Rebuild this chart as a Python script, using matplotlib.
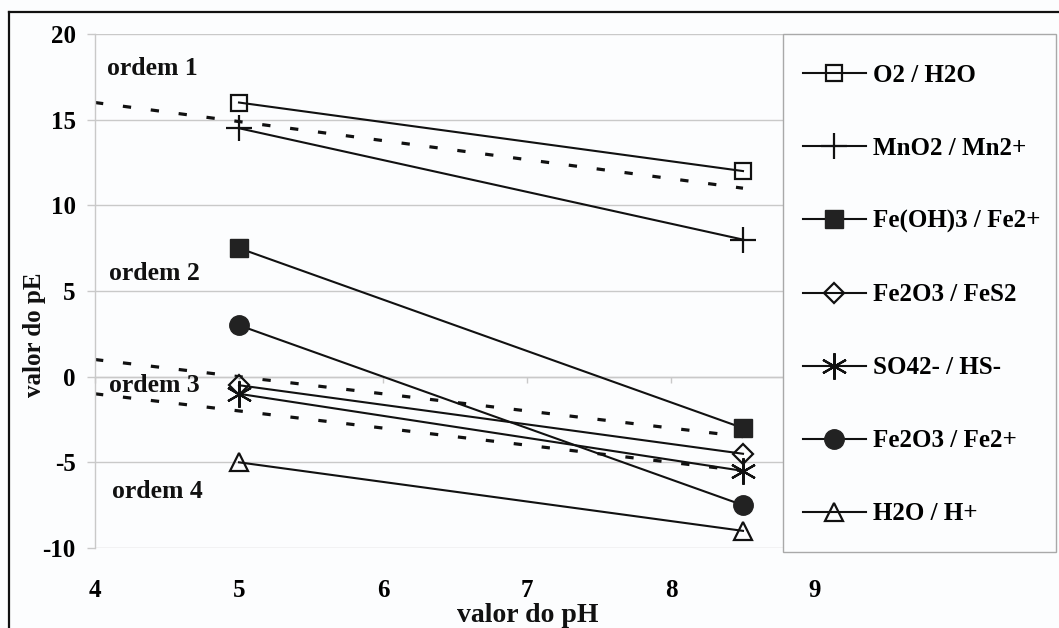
import matplotlib
matplotlib.use("Agg")
import matplotlib.pyplot as plt
from matplotlib.lines import Line2D
from matplotlib.patches import Rectangle

# pH values at which each redox couple is evaluated
ph = [5, 8.5]

# pE values for each couple
o2_h2o = [16, 12]
mno2_mn2 = [14.5, 8]
feoh3_fe2 = [7.5, -3]
fe2o3_fes2 = [-0.5, -4.5]
so4_hs = [-1, -5.5]
fe2o3_fe2 = [3, -7.5]
h2o_h = [-5, -9]

series_labels = ["O2 / H2O", "MnO2 / Mn2+", "Fe(OH)3 / Fe2+", "Fe2O3 / FeS2",
                 "SO42- / HS-", "Fe2O3 / Fe2+", "H2O / H+"]

# dashed boundaries separating the reduction orders
boundary_ph = [4, 8.5]
boundary_upper = [16, 11]
boundary_mid = [1, -3.5]
boundary_low = [-1, -5.5]

order_labels = ["ordem 1", "ordem 2", "ordem 3", "ordem 4"]
order_pos = [(4.08, 18.0), (4.1, 6.0), (4.1, -0.5), (4.12, -6.7)]

x_ticks = [4, 5, 6, 7, 8, 9]
y_ticks = [-10, -5, 0, 5, 10, 15, 20]

W, H = 1059, 628
BG = "#fcfdfe"
INK = "#111111"
GRID = "#c9c9c9"
SERIF = ["Liberation Serif", "DejaVu Serif"]

plt.rcParams["font.family"] = SERIF
plt.rcParams["font.weight"] = "bold"
plt.rcParams["axes.unicode_minus"] = False

fig = plt.figure(figsize=(W / 100, H / 100), dpi=100, facecolor=BG)

left, right_px, top, bottom = 95, 959, 34, 548
ax = fig.add_axes([left / W, 1 - bottom / H, (right_px - left) / W, (bottom - top) / H])
ax.set_facecolor(BG)
ax.set_xlim(4, 10)
ax.set_ylim(-10, 20)

# horizontal gridlines and light axis lines
ax.set_yticks(y_ticks)
ax.yaxis.grid(True, color=GRID, linewidth=1.0)
ax.set_axisbelow(True)
for side in ["top", "right"]:
    ax.spines[side].set_visible(False)
ax.spines["left"].set_color(GRID)
ax.spines["left"].set_linewidth(1.0)
ax.spines["bottom"].set_position(("data", 0))
ax.spines["bottom"].set_color(GRID)
ax.spines["bottom"].set_linewidth(1.0)
ax.set_xticks(x_ticks)
ax.tick_params(axis="x", labelbottom=False, length=4, width=1, color=GRID, direction="out")
ax.tick_params(axis="y", length=5.8, width=1, color=GRID, pad=8, labelsize=18)
for lbl in ax.get_yticklabels():
    lbl.set_fontweight("bold")

# tick labels sit below the plot while the axis line crosses at pE = 0
sec = ax.secondary_xaxis("bottom")
sec.set_xticks(x_ticks)
sec.tick_params(length=0, pad=22, labelsize=18)
sec.spines["bottom"].set_visible(False)
for lbl in sec.get_xticklabels():
    lbl.set_fontweight("bold")

# dashed order boundaries
dash_kw = dict(color=INK, linewidth=2.3, dashes=(2.6, 6.2), zorder=2)
ax.plot(boundary_ph, boundary_upper, **dash_kw)
ax.plot(boundary_ph, boundary_mid, **dash_kw)
ax.plot(boundary_ph, boundary_low, **dash_kw)

line_kw = dict(color=INK, linewidth=1.5, zorder=3)
h1, = ax.plot(ph, o2_h2o, marker="s", markersize=12, markerfacecolor="none",
              markeredgecolor=INK, markeredgewidth=1.6, **line_kw)
h2, = ax.plot(ph, mno2_mn2, marker="+", markersize=19, markeredgewidth=1.6, **line_kw)
h3, = ax.plot(ph, feoh3_fe2, marker="s", markersize=13, markerfacecolor="#222222",
              markeredgecolor="#222222", **line_kw)
h4, = ax.plot(ph, fe2o3_fes2, marker="D", markersize=10, markerfacecolor="none",
              markeredgecolor=INK, markeredgewidth=1.6, **line_kw)
h5, = ax.plot(ph, so4_hs, marker=(6, 2, 0), markersize=19, markeredgewidth=1.6, **line_kw)
h6, = ax.plot(ph, fe2o3_fe2, marker="o", markersize=14, markerfacecolor="#222222",
              markeredgecolor="#222222", **line_kw)
h7, = ax.plot(ph, h2o_h, marker="^", markersize=13, markerfacecolor="none",
              markeredgecolor=INK, markeredgewidth=1.6, **line_kw)
handles = [h1, h2, h3, h4, h5, h6, h7]

for text, (xp, yp) in zip(order_labels, order_pos):
    ax.text(xp, yp, text, fontsize=18.5, fontweight="bold", color=INK,
            ha="left", va="center", zorder=4)

# axis titles
fig.text(528 / W, 1 - 615 / H, "valor do pH", fontsize=20, fontweight="bold",
         color=INK, ha="center", va="center")
fig.text(34 / W, 1 - 335 / H, "valor do pE", fontsize=18, fontweight="bold",
         color=INK, ha="center", va="center", rotation=90)

# legend panel
panel = Rectangle((783 / W, 1 - 552 / H), (1056 - 783) / W, (552 - 34) / H,
                  transform=fig.transFigure, facecolor=BG, edgecolor="#a9a9a9",
                  linewidth=1.0, zorder=2)
fig.add_artist(panel)
leg = fig.legend(handles, series_labels, loc="upper left",
                 bbox_to_anchor=(803 / W, 1 - 64 / H), frameon=False,
                 borderpad=0, borderaxespad=0, handlelength=2.5,
                 handletextpad=0.3, labelspacing=2.0,
                 prop={"family": SERIF, "weight": "bold", "size": 18})
leg.set_zorder(6)

# outer border of the figure
fig.add_artist(Line2D([9 / W, 1.0], [1 - 12 / H, 1 - 12 / H],
                      transform=fig.transFigure, color=INK, linewidth=1.6))
fig.add_artist(Line2D([9 / W, 9 / W], [0.0, 1 - 12 / H],
                      transform=fig.transFigure, color=INK, linewidth=1.6))

fig.savefig("out.png", dpi=100, facecolor=BG)
